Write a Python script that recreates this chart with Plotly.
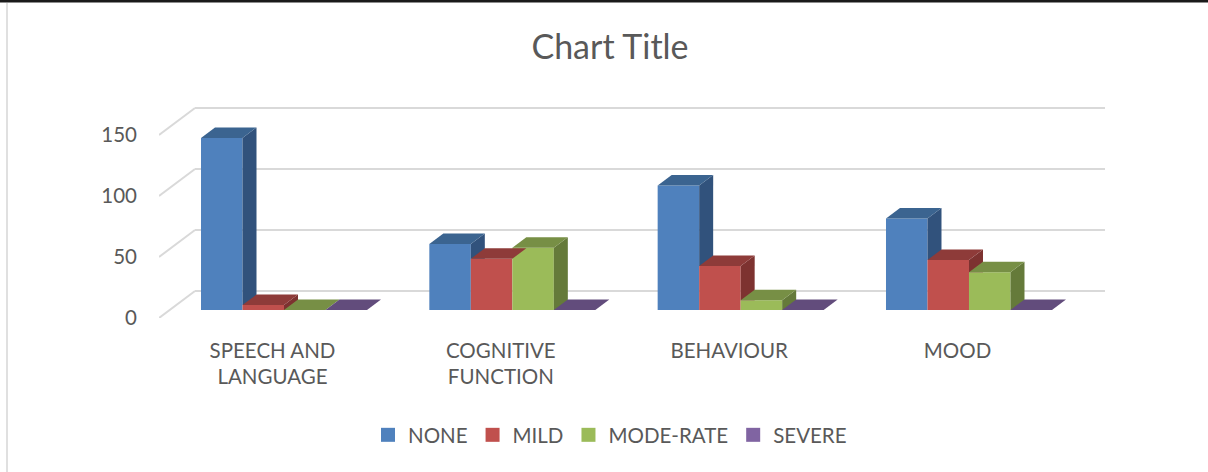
import plotly.graph_objects as go

categories = ["SPEECH AND<br>LANGUAGE", "COGNITIVE<br>FUNCTION", "BEHAVIOUR", "MOOD"]
none_values = [141, 54, 102, 75]
mild_values = [4, 42, 36, 41]
moderate_values = [0, 51, 8, 31]
severe_values = [0, 0, 0, 0]
y_ticks = [0, 50, 100, 150]

series_names = ["NONE", "MILD", "MODE-RATE", "SEVERE"]
series_values = [none_values, mild_values, moderate_values, severe_values]
front_colors = ["#4F81BD", "#C0504D", "#9BBB59", "#8064A2"]
side_colors = ["#31527C", "#7D3230", "#657A3A", "#534169"]
top_colors = ["#3B6490", "#8E3B39", "#778F45", "#624C7C"]

WIDTH, HEIGHT = 1208, 472
LEFT, RIGHT, TOP, BOTTOM = 159, 1105, 100, 318
PX_X = 228.33  # px per category
PX_Y = 1.22    # px per value unit
FIRST_CENTER = 284

GROUP_WIDTH = 0.727
BAR_W = GROUP_WIDTH / 4
DEPTH_X, DEPTH_Y = 14 / PX_X, 10.5 / PX_Y  # bar depth
WALL_X, WALL_Y = 36 / PX_X, 27 / PX_Y      # front edge to back wall
LIFT = 8 / PX_Y                            # bars stand a bit behind the front edge

x_pos = list(range(len(categories)))
x_min = (LEFT - FIRST_CENTER) / PX_X
x_max = (RIGHT - FIRST_CENTER) / PX_X
tick_shift = -11.5 / PX_X


def paper_x(px):
    return (px - LEFT) / (RIGHT - LEFT)


def paper_y(py):
    return (BOTTOM - py) / (BOTTOM - TOP)


def face(xs, ys, color):
    return go.Scatter(x=xs, y=ys, mode="lines", fill="toself", fillcolor=color,
                      line=dict(width=0), showlegend=False, hoverinfo="skip")


def side_face(right, h, h_next, color):
    # Scatter draws above bars, so cut off the part the next bar would hide
    base = LIFT + h
    low = LIFT + h_next
    if h_next > h:
        t = (h_next - h) / DEPTH_Y
        if t >= 1:
            return None
        return face([right + t * DEPTH_X, right + DEPTH_X, right + DEPTH_X],
                    [low, base + DEPTH_Y, low], color)
    return face([right, right, right + DEPTH_X, right + DEPTH_X],
                [low, base, base + DEPTH_Y, low], color)


fig = go.Figure()

for name, values, color in zip(series_names, series_values, front_colors):
    fig.add_trace(go.Bar(x=x_pos, y=values, base=LIFT, name=name, showlegend=False,
                         marker=dict(color=color, line=dict(width=0))))

# side and top faces of the columns
for g in x_pos:
    for s in range(len(series_names)):
        h = series_values[s][g]
        left = g - GROUP_WIDTH / 2 + s * BAR_W
        right = left + BAR_W
        if s + 1 < len(series_names):
            h_next = series_values[s + 1][g]
        else:
            h_next = 0
        side = side_face(right, h, h_next, side_colors[s])
        if side is not None and h > 0:
            fig.add_trace(side)
        y0 = LIFT + h
        fig.add_trace(face([left, right, right + DEPTH_X, left + DEPTH_X],
                           [y0, y0, y0 + DEPTH_Y, y0 + DEPTH_Y], top_colors[s]))

# legend entries only, bar swatches are too small (12px)
for name, color in zip(series_names, front_colors):
    fig.add_trace(go.Scatter(x=[None], y=[None], mode="markers", name=name,
                             marker=dict(symbol="square", size=14, color=color)))

# back wall gridlines and the slanted side wall lines
shapes = []
for v in y_ticks:
    shapes.append(dict(type="line", layer="below", xref="x", yref="y",
                       x0=x_min, y0=v, x1=x_min + WALL_X, y1=v + WALL_Y,
                       line=dict(color="#D9D9D9", width=2)))
    shapes.append(dict(type="line", layer="below", xref="x", yref="y",
                       x0=x_min + WALL_X, y0=v + WALL_Y, x1=x_max, y1=v + WALL_Y,
                       line=dict(color="#D9D9D9", width=2)))

# frame of the screenshot
shapes.append(dict(type="rect", xref="paper", yref="paper", layer="below",
                   x0=paper_x(6), x1=paper_x(8), y0=paper_y(HEIGHT), y1=paper_y(3),
                   fillcolor="#E0E0E0", line=dict(width=0)))
shapes.append(dict(type="rect", xref="paper", yref="paper", layer="below",
                   x0=paper_x(0), x1=paper_x(WIDTH), y0=paper_y(2.5), y1=paper_y(0),
                   fillcolor="#1A1A1A", line=dict(width=0)))

fig.update_layout(
    width=WIDTH, height=HEIGHT,
    margin=dict(l=LEFT, r=WIDTH - RIGHT, t=TOP, b=HEIGHT - BOTTOM, pad=0),
    paper_bgcolor="white", plot_bgcolor="rgba(0,0,0,0)",
    font=dict(family="Lato", color="#595959", size=20.5),
    barmode="group", bargap=1 - GROUP_WIDTH, bargroupgap=0,
    title=dict(text="Chart Title", x=610 / WIDTH, xanchor="center",
               y=1 - 47 / HEIGHT, yanchor="middle",
               font=dict(family="Lato", size=34, color="#595959")),
    legend=dict(orientation="h", x=paper_x(610), xanchor="center",
                y=paper_y(435), yanchor="middle",
                bgcolor="rgba(0,0,0,0)", font=dict(size=20.5),
                traceorder="normal"),
    shapes=shapes,
    hovermode=False,
)
fig.update_xaxes(range=[x_min, x_max], tickvals=[p + tick_shift for p in x_pos],
                 ticktext=categories, showgrid=False, zeroline=False, showline=False,
                 ticks="", ticklabelstandoff=18, tickangle=0)
fig.update_yaxes(range=[0, (BOTTOM - TOP) / PX_Y], tickvals=y_ticks, showgrid=False,
                 zeroline=False, showline=False, ticks="", ticklabelstandoff=21)

# page has a default 8px body margin
fig.write_html("out.html", config=dict(displayModeBar=False),
               post_script="document.body.style.margin = '0';")
